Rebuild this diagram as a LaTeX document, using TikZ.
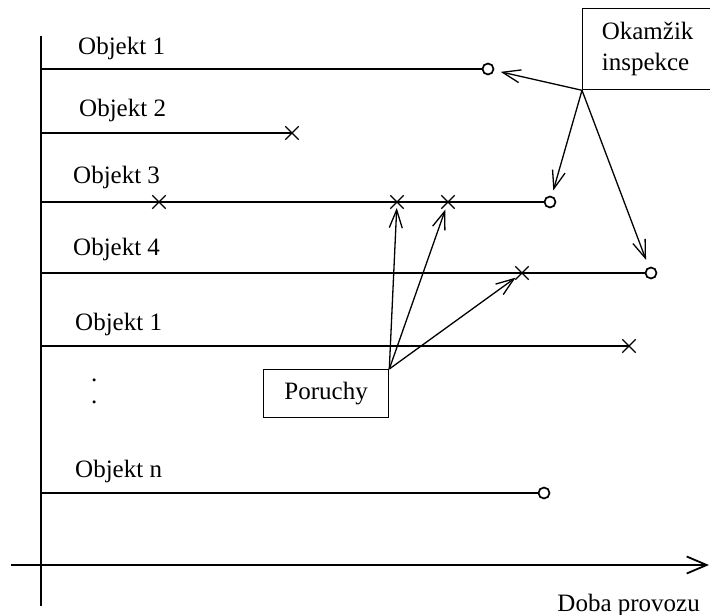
\documentclass[tikz,border=0pt]{standalone}
\usepackage{fontspec}
\setmainfont{Liberation Serif}
\usetikzlibrary{arrows.meta,shapes.misc}

\tikzset{
  lbl/.style={anchor=base west, inner sep=0pt, font=\fontsize{25}{31}\selectfont},
  endo/.style={circle, draw=black, fill=white, line width=1.7pt, inner sep=0pt, minimum size=11pt},
  endx/.style={cross out, draw=black, line width=1.3pt, inner sep=0pt, minimum size=12pt},
  infobox/.style={rectangle, draw=black, line width=1.3pt, align=left, font=\fontsize{25}{31}\selectfont},
  life/.style={line width=1.4pt},
  axis/.style={line width=2pt},
  ptr/.style={-{Straight Barb[length=18pt,width=13pt,line width=1.3pt]}, line width=1.3pt},
}

\begin{document}
\begin{tikzpicture}[x=1pt, y=-1pt]

\useasboundingbox (0,0) rectangle (710,615);

\coordinate (xa) at (11,565);
\coordinate (xb) at (709,565);
\coordinate (ya) at (41,36);
\coordinate (yb) at (41,606);
\draw[axis] (ya) -- (yb);
\draw[axis, -{Straight Barb[length=20pt,width=17pt,line width=1.8pt]}] (xa) -- (xb);
\node at (700,611)[lbl, anchor=base east] (doba) {Doba provozu};

\coordinate (s1) at (41,69);
\coordinate (s2) at (41,133);
\coordinate (s3) at (41,202);
\coordinate (s4) at (41,273);
\coordinate (s5) at (41,346);
\coordinate (s6) at (41,493);

\node at (78,55)[lbl] (obj1) {Objekt 1};
\node at (79,117)[lbl] (obj2) {Objekt 2};
\node at (73,183)[lbl] (obj3) {Objekt 3};
\node at (73,255)[lbl] (obj4) {Objekt 4};
\node at (75,330)[lbl] (obj5) {Objekt 1};
\node at (75,477)[lbl] (objn) {Objekt n};
\node at (91,379)[lbl, anchor=north west, align=left, font=\fontsize{25}{22}\selectfont] (dots) {.\\.};

\node at (488,69)[endo] (o1) {};
\node at (292,133)[endx] (x2) {};
\node at (159,202)[endx] (x3a) {};
\node at (397,202)[endx] (x3b) {};
\node at (448,202)[endx] (x3c) {};
\node at (550,202)[endo] (o3) {};
\node at (522,273)[endx] (x4) {};
\node at (651,273)[endo] (o4) {};
\node at (629,346)[endx] (x5) {};
\node at (544,493)[endo] (on) {};

\draw[life] (s1) -- (o1);
\draw[life] (s2) -- (x2.center);
\draw[life] (s3) -- (o3);
\draw[life] (s4) -- (o4);
\draw[life] (s5) -- (x5.center);
\draw[life] (s6) -- (on);

\node at (582,8)[infobox, anchor=north west, minimum width=130pt, minimum height=81pt] (insp) {Okamžik\\inspekce};
\node at (263,369)[infobox, anchor=north west, minimum width=125pt, minimum height=48pt] (por) {Poruchy};

\draw[ptr, shorten >=13pt] (insp.south west) -- (o1.center);
\draw[ptr, shorten >=12pt] (insp.south west) -- (o3.center);
\draw[ptr, shorten >=14pt] (insp.south west) -- (o4.center);

\draw[ptr, shorten >=6pt] (por.north east) -- (x3b.center);
\draw[ptr, shorten >=8pt] (por.north east) -- (x3c.center);
\draw[ptr, shorten >=8pt] (por.north east) -- (x4.center);

\end{tikzpicture}
\end{document}
